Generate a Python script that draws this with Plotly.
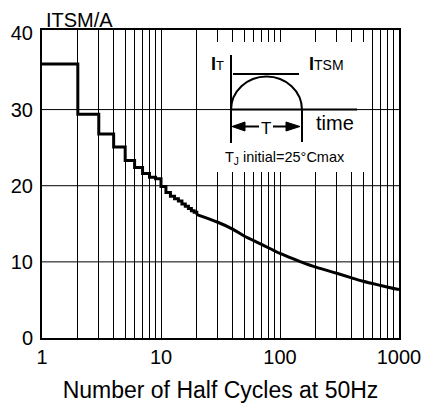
import plotly.graph_objects as go

# ---- data ----
step_cycles = [1, 2, 3, 4, 5, 6, 7, 8, 9, 10, 11, 12, 13, 14, 15, 16, 17, 18, 19, 20]
step_itsm = [36.0, 29.4, 26.8, 25.1, 23.3, 22.4, 21.6, 21.1, 20.9, 19.9, 19.1, 18.6,
             18.3, 18.0, 17.6, 17.3, 17.0, 16.7, 16.5, 16.2]
curve_cycles = [20, 30, 40, 50, 70, 100, 150, 200, 300, 400, 500, 700, 1000]
curve_itsm = [16.2, 15.2, 14.3, 13.4, 12.3, 11.1, 10.0, 9.3, 8.5, 7.9, 7.45, 6.9, 6.35]

x_tickvals = [m * 10 ** e for e in range(3) for m in range(1, 10)] + [1000]
x_ticktext = [str(v) if v in (1, 10, 100, 1000) else "" for v in x_tickvals]
y_tickvals = [0, 10, 20, 30, 40]
y_grid = [10, 20, 30]

YMAX = 40.45
FONT = "Liberation Sans, Arial, sans-serif"

# pixel geometry of plot area (for inset drawing)
PX0, PX1, PY0, PY1 = 42, 399, 338, 30


def xp(px):
    return (px - PX0) / (PX1 - PX0)


def yp(py):
    return (PY0 - py) / (PY0 - PY1)


fig = go.Figure()
fig.add_trace(go.Scatter(x=step_cycles, y=step_itsm, mode="lines", line_shape="hv",
                         line=dict(color="black", width=3), showlegend=False))
fig.add_trace(go.Scatter(x=curve_cycles, y=curve_itsm, mode="lines", line_shape="spline",
                         line=dict(color="black", width=3), showlegend=False))

shapes = []
# white inset box hiding vertical grid lines
shapes.append(dict(type="rect", xref="paper", yref="paper", x0=xp(199), x1=xp(366),
                   y0=yp(172), y1=yp(42), fillcolor="white", line=dict(width=0)))
# horizontal grid lines
for g in y_grid:
    shapes.append(dict(type="line", xref="paper", yref="y", x0=0, x1=1, y0=g, y1=g,
                       line=dict(color="black", width=1)))

ax_y = 30 / YMAX  # inset time axis sits on the 30 grid line
ln = dict(color="black", width=2)
# inset: vertical axis
shapes.append(dict(type="line", xref="paper", yref="paper", x0=xp(231), x1=xp(231),
                   y0=yp(143), y1=yp(55), line=ln))
# time axis
shapes.append(dict(type="line", xref="paper", yref="paper", x0=xp(231), x1=xp(357),
                   y0=ax_y, y1=ax_y, line=ln))
# ITSM level line
shapes.append(dict(type="line", xref="paper", yref="paper", x0=xp(233), x1=xp(299),
                   y0=yp(74), y1=yp(74), line=ln))
# right end marker
shapes.append(dict(type="line", xref="paper", yref="paper", x0=xp(302), x1=xp(302),
                   y0=ax_y, y1=yp(142), line=ln))
# half-sine pulse
k = 0.5523
xa, xm, xb = 231, 266.5, 302
yb, yt = 110, 76.5
path = (f"M {xp(xa)},{yp(yb)} "
        f"C {xp(xa)},{yp(yb - k * (yb - yt))} {xp(xm - k * (xm - xa))},{yp(yt)} {xp(xm)},{yp(yt)} "
        f"C {xp(xm + k * (xb - xm))},{yp(yt)} {xp(xb)},{yp(yb - k * (yb - yt))} {xp(xb)},{yp(yb)}")
shapes.append(dict(type="path", xref="paper", yref="paper", path=path, line=ln))
# arrow lines
ya = 126.5
shapes.append(dict(type="line", xref="paper", yref="paper", x0=xp(243), x1=xp(259),
                   y0=yp(ya), y1=yp(ya), line=ln))
shapes.append(dict(type="line", xref="paper", yref="paper", x0=xp(273), x1=xp(288),
                   y0=yp(ya), y1=yp(ya), line=ln))
# arrow heads
shapes.append(dict(type="path", xref="paper", yref="paper",
                   path=f"M {xp(232)},{yp(ya)} L {xp(245)},{yp(ya - 4.5)} L {xp(245)},{yp(ya + 4.5)} Z",
                   fillcolor="black", line=dict(color="black", width=1)))
shapes.append(dict(type="path", xref="paper", yref="paper",
                   path=f"M {xp(300)},{yp(ya)} L {xp(286)},{yp(ya - 4.5)} L {xp(286)},{yp(ya + 4.5)} Z",
                   fillcolor="black", line=dict(color="black", width=1)))

annotations = [
    dict(text="ITSM/A", xref="paper", yref="paper", x=xp(44), y=yp(20), xanchor="left",
         yanchor="middle", showarrow=False, font=dict(size=20, family=FONT, color="black")),
    dict(text="<b>I</b><span style='font-size:13px'>T</span>", xref="paper", yref="paper",
         x=xp(209), y=yp(64), xanchor="left", yanchor="middle", showarrow=False,
         font=dict(size=18, family=FONT, color="black")),
    dict(text="<b>I</b><span style='font-size:14px'>TSM</span>", xref="paper", yref="paper",
         x=xp(307), y=yp(64), xanchor="left", yanchor="middle", showarrow=False,
         font=dict(size=18, family=FONT, color="black")),
    dict(text="T", xref="paper", yref="paper", x=xp(266), y=yp(128), xanchor="center",
         yanchor="middle", showarrow=False, font=dict(size=17, family=FONT, color="black")),
    dict(text="time", xref="paper", yref="paper", x=xp(314), y=yp(123), xanchor="left",
         yanchor="middle", showarrow=False, font=dict(size=20, family=FONT, color="black")),
    dict(text="T<sub>J</sub> initial=25°Cmax", xref="paper", yref="paper", x=xp(285), y=yp(158),
         xanchor="center", yanchor="middle", showarrow=False,
         font=dict(size=14.5, family=FONT, color="black")),
]

fig.update_layout(
    width=425, height=403,
    margin=dict(l=PX0, r=425 - PX1, t=PY1, b=403 - PY0, autoexpand=False),
    paper_bgcolor="white", plot_bgcolor="white",
    font=dict(family=FONT, color="black"),
    shapes=shapes, annotations=annotations,
    xaxis=dict(type="log", range=[0, 3], tickvals=x_tickvals, ticktext=x_ticktext,
               showgrid=True, gridcolor="black", gridwidth=1, ticks="",
               showline=True, linecolor="black", linewidth=2, mirror=True,
               tickfont=dict(size=20), zeroline=False, automargin=False,
               title=dict(text="Number of Half Cycles at 50Hz", font=dict(size=23), standoff=15)),
    yaxis=dict(range=[0, YMAX], tickvals=y_tickvals, showgrid=False, ticks="",
               showline=True, linecolor="black", linewidth=2, mirror=True, automargin=False,
               tickfont=dict(size=20), zeroline=False, ticklabelstandoff=3),
)

fig.write_html("out.html")
